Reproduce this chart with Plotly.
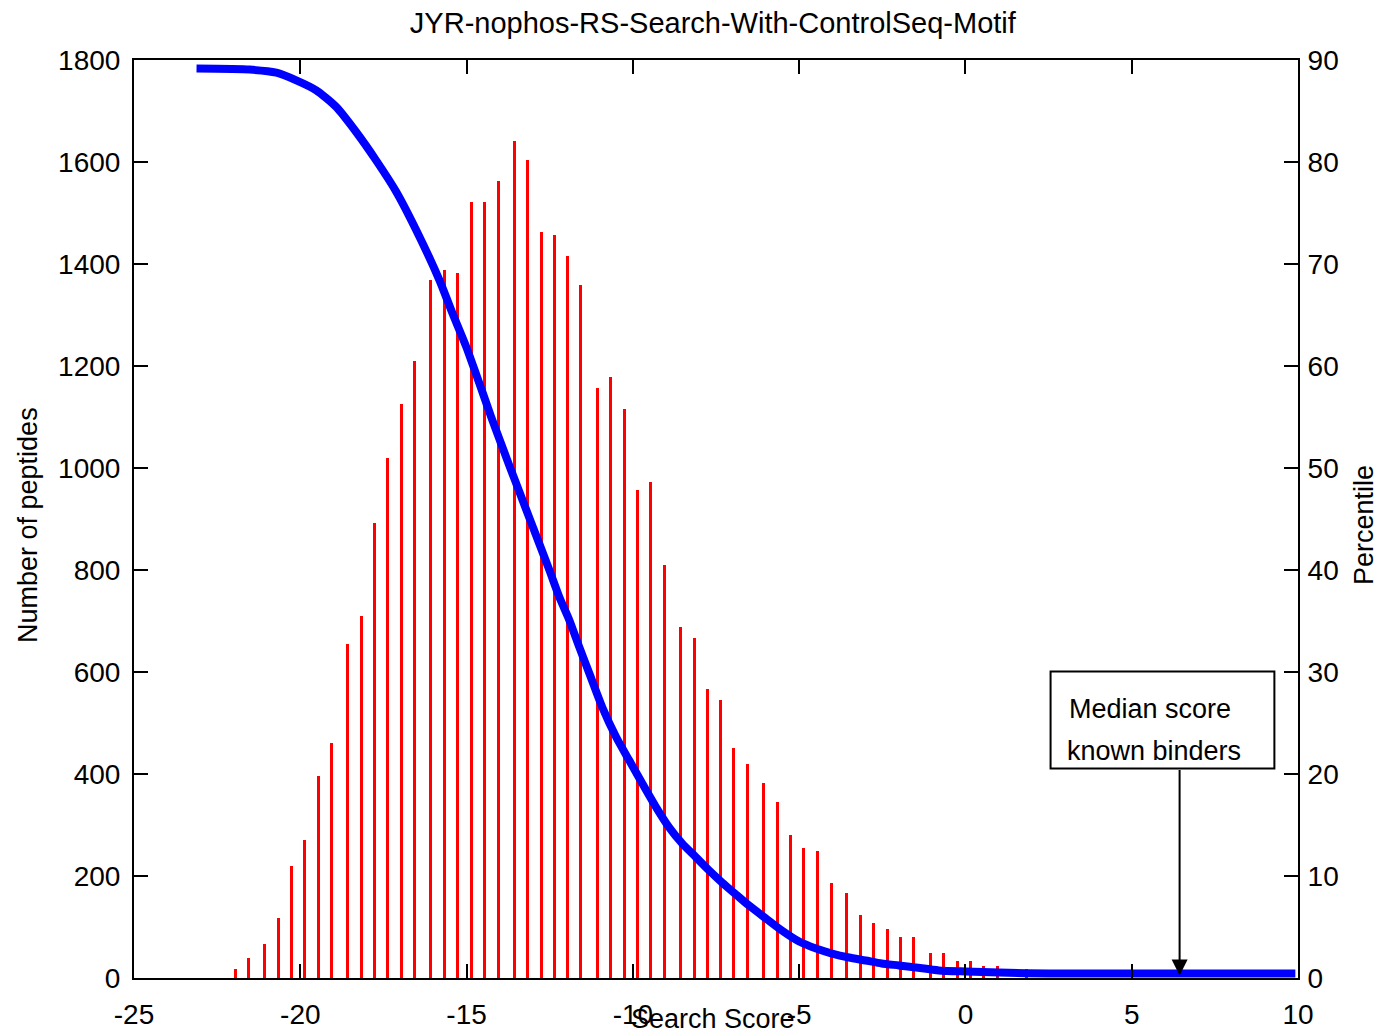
import plotly.graph_objects as go

# ---- data ----
bin_centers = [-21.95, -21.55, -21.07, -20.66, -20.26, -19.86, -19.46, -19.05, -18.57, -18.17,
               -17.77, -17.37, -16.97, -16.57, -16.07, -15.67, -15.27, -14.86, -14.46, -14.05,
               -13.56, -13.17, -12.76, -12.36, -11.96, -11.56, -11.06, -10.66, -10.26, -9.86,
               -9.46, -9.04, -8.56, -8.16, -7.76, -7.36, -6.96, -6.56, -6.06, -5.66,
               -5.26, -4.86, -4.46, -4.04, -3.57, -3.15, -2.75, -2.35, -1.95, -1.55,
               -1.05, -0.67, -0.25, 0.15, 0.55, 0.95, 1.85]
peptide_counts = [18, 39, 66, 118, 219, 271, 397, 460, 655, 709,
                  893, 1020, 1125, 1209, 1368, 1389, 1383, 1521, 1521, 1562,
                  1642, 1604, 1462, 1457, 1415, 1358, 1157, 1178, 1116, 956,
                  972, 809, 688, 666, 567, 546, 451, 420, 382, 345,
                  281, 255, 250, 187, 166, 123, 108, 97, 81, 81,
                  49, 49, 34, 34, 23, 23, 18]

curve_scores = [-23.12, -21.52, -20.72, -20.12, -19.52, -18.92, -18.32, -17.72, -17.12, -16.52,
                -15.82, -15.43, -15.01, -14.62, -14.26, -13.72, -13.11, -12.51, -12.21,
                -11.91, -11.61, -11.31, -10.92, -10.50, -10.11, -9.72, -9.30, -8.91, -8.52,
                -8.10, -7.71, -7.32, -6.90, -6.51, -6.00, -5.52, -5.00, -4.49, -4.01,
                -3.50, -3.00, -2.52, -2.00, -1.49, -0.80, 0.00, 1.00, 2.50, 9.92]
curve_percentile = [89.16, 89.06, 88.76, 88.01, 87.03, 85.40, 82.94, 80.16, 77.11, 73.36,
                    68.45, 65.21, 61.87, 58.34, 55.00, 50.29, 45.09, 39.99, 37.34,
                    35.08, 32.43, 29.88, 26.55, 23.60, 21.34, 19.09, 16.73, 14.77, 13.20,
                    11.83, 10.55, 9.37, 8.19, 7.11, 5.84, 4.66, 3.58, 2.89, 2.40,
                    2.01, 1.72, 1.42, 1.23, 1.03, 0.74, 0.64, 0.54, 0.44, 0.44]

x_tickvals = [-25, -20, -15, -10, -5, 0, 5, 10]
x_ticktext = ["-25", "-20", "-15", "-10", "-5", "0", "5", "10"]
y_tickvals = [0, 200, 400, 600, 800, 1000, 1200, 1400, 1600, 1800]
y2_tickvals = [0, 10, 20, 30, 40, 50, 60, 70, 80, 90]

median_known_binders = 6.44

FONT = "Liberation Sans, Arial, sans-serif"
FS = 27
TFS = 28

fig = go.Figure()
fig.add_trace(go.Bar(x=bin_centers, y=peptide_counts, width=0.09,
                     marker=dict(color="#ff0000", line=dict(width=0)),
                     yaxis="y", showlegend=False))
fig.add_trace(go.Scatter(x=curve_scores, y=curve_percentile, mode="lines",
                         line=dict(color="#0000ff", width=8, shape="spline", smoothing=0.6),
                         yaxis="y2", showlegend=False))

axis_common = dict(showline=True, linecolor="black", linewidth=2, ticks="inside",
                   ticklen=14, tickwidth=2, tickcolor="black", showgrid=False,
                   zeroline=False, tickfont=dict(family=FONT, size=TFS, color="black"))

# page body adds an 8px offset, so the figure is sized/margined to compensate
fig.update_layout(
    width=1374, height=1021,
    margin=dict(l=126, r=84, t=52, b=51, pad=0, autoexpand=False),
    paper_bgcolor="white", plot_bgcolor="white",
    font=dict(family=FONT, size=FS, color="black"),
    bargap=0,
    xaxis=dict(range=[-25, 10], tickvals=x_tickvals, ticktext=x_ticktext,
               mirror="ticks", ticklabelstandoff=10, **axis_common),
    yaxis=dict(range=[0, 1800], tickvals=y_tickvals, ticklabelstandoff=6, **axis_common),
    yaxis2=dict(range=[0, 90], tickvals=y2_tickvals, overlaying="y", side="right",
                ticklabelstandoff=2, **axis_common),
    title=dict(text="JYR-nophos-RS-Search-With-ControlSeq-Motif", x=0.513, xanchor="center",
               y=1 - 15 / 1021, yanchor="middle",
               font=dict(family=FONT, size=29, color="black")),
)

# axis titles placed as annotations (reference overlaps x title with tick labels)
fig.add_annotation(text="Search Score", xref="paper", yref="paper", x=0.497, y=-0.0445,
                   xanchor="center", yanchor="middle", showarrow=False,
                   font=dict(family=FONT, size=FS, color="black"))
fig.add_annotation(text="Number of peptides", xref="paper", yref="paper",
                   x=-(134 - 28) / 1164, y=(978 - 525) / 918, textangle=-90,
                   xanchor="center", yanchor="middle", showarrow=False,
                   font=dict(family=FONT, size=FS, color="black"))
fig.add_annotation(text="Percentile", xref="paper", yref="paper",
                   x=1 + (1364 - 1298) / 1164, y=(978 - 525) / 918, textangle=-90,
                   xanchor="center", yanchor="middle", showarrow=False,
                   font=dict(family=FONT, size=FS, color="black"))

# callout box
fig.add_shape(type="rect", xref="x", yref="y", x0=2.56, x1=9.29, y0=410.8, y1=601,
              line=dict(color="black", width=2), fillcolor="white", layer="above")
fig.add_annotation(text="Median score", xref="x", yref="y", x=3.04, y=528,
                   xanchor="left", yanchor="middle", showarrow=False,
                   font=dict(family=FONT, size=FS, color="black"))
fig.add_annotation(text="known binders", xref="x", yref="y", x=2.98, y=446,
                   xanchor="left", yanchor="middle", showarrow=False,
                   font=dict(family=FONT, size=FS, color="black"))
fig.add_annotation(text="", x=median_known_binders, y=5, xref="x", yref="y",
                   ax=median_known_binders, ay=410.8, axref="x", ayref="y",
                   showarrow=True, arrowhead=2, arrowsize=1.6, arrowwidth=2,
                   arrowcolor="black")

fig.write_html("out.html")
